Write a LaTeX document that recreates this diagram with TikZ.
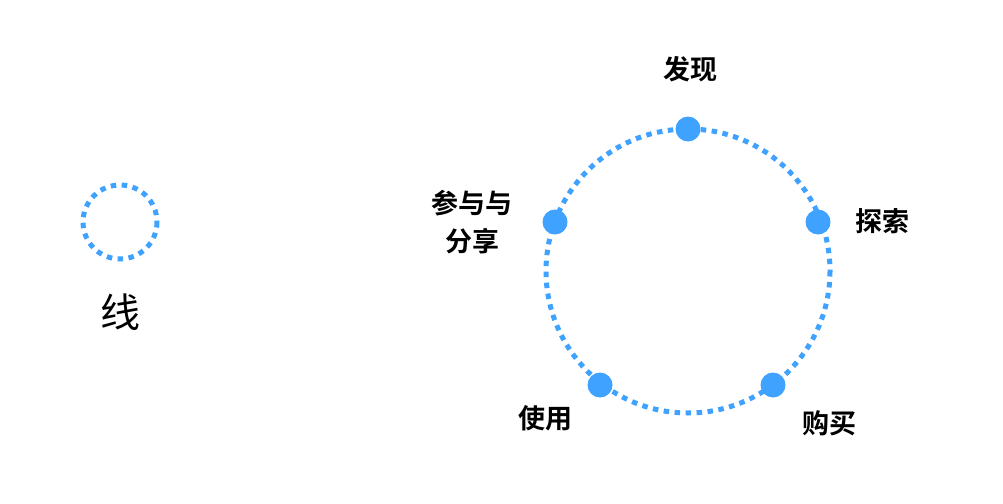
\documentclass[tikz,border=0pt]{standalone}
\usepackage{fontspec}
\usepackage{xcolor}
\usepackage{tikz}
\usetikzlibrary{calc,positioning}
\newfontfamily\cjkbold{Noto Sans CJK SC Bold}
\newfontfamily\cjkreg{Noto Sans CJK SC}
\definecolor{bluex}{HTML}{3FA2FF}
\tikzset{
  dotline/.style={draw=bluex,line width=5pt,dash pattern=on 5.5pt off 5.5pt},
  stage/.style={circle,fill=bluex,inner sep=0pt,minimum size=25pt},
  lab/.style={font=\cjkbold\fontsize{27}{38}\selectfont,align=center,inner sep=0pt}
}
\begin{document}
\begin{tikzpicture}[x=1pt,y=-1pt]
\useasboundingbox (0,0) rectangle (1003,503);
% legend
\draw[dotline] (120,222) circle (37);
\node[font=\cjkreg\fontsize{40}{42}\selectfont,inner sep=0pt] (legend) at (120,312) {线};
% cycle
\coordinate (c) at (688,271);
\draw[dotline] (c) circle (142);
\node[stage] (find) at ($(c)+(0,-142)$) {};
\node[stage] (explore) at (818,222) {};
\node[stage] (buy) at (773,385) {};
\node[stage] (use) at (600,385) {};
\node[stage] (share) at (555,222) {};
\node[lab] (tfind) at (690,69) {发现};
\node[lab] (texplore) at (882,221) {探索};
\node[lab] (tbuy) at (829,423) {购买};
\node[lab] (tuse) at (545,418) {使用};
\node[lab] (tshare) at (472,222) {参与与\\分享};
\end{tikzpicture}
\end{document}
